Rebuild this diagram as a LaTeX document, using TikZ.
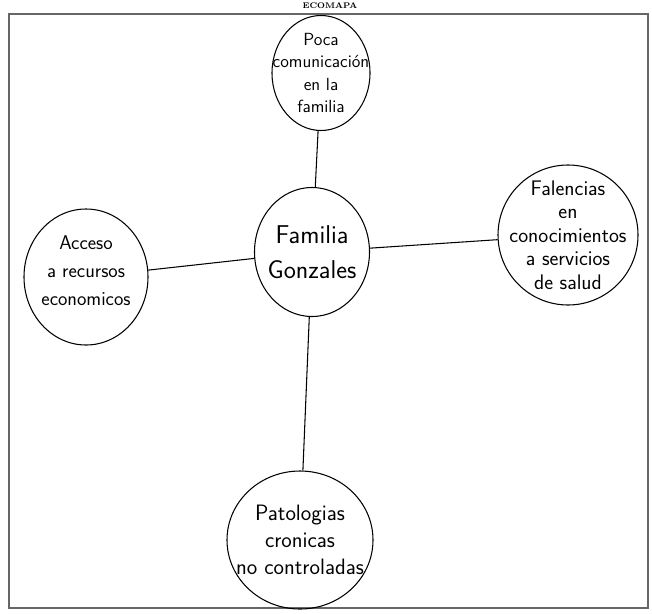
\documentclass[tikz,border=0pt]{standalone}
\usepackage{tikz}
\usetikzlibrary{shapes.geometric}

\begin{document}
\begin{tikzpicture}[x=0.03cm, y=-0.03cm, line width=0.9pt,
	bubble/.style={draw, ellipse, inner sep=0pt},
	txt/.style={font=\sffamily\Large, align=center}]
	\useasboundingbox (0,0) rectangle (652,613);
	\draw[gray!80!black, line width=1pt] (9,14) rectangle (648,608);
	\node[font=\bfseries\scriptsize, inner sep=0pt] (titulo) at (330,6) {ECOMAPA};
	% circulos
	\node[bubble, minimum width=2.94cm, minimum height=3.45cm] (poca) at (321,73) {};
	\node[bubble, minimum width=3.45cm, minimum height=3.87cm] (fam) at (312,252) {};
	\node[bubble, minimum width=4.2cm, minimum height=4.2cm] (fal) at (568,235) {};
	\node[bubble, minimum width=3.72cm, minimum height=4.08cm] (acc) at (86,277) {};
	\node[bubble, minimum width=4.38cm, minimum height=4.14cm] (pat) at (300,540) {};
	% textos
	\node[txt, font=\sffamily\fontsize{15}{19}\selectfont] at (poca) {Poca\\comunicación\\en la\\familia};
	\node[txt, font=\sffamily\fontsize{22}{30}\selectfont] at (fam) {Familia\\Gonzales};
	\node[txt, font=\sffamily\fontsize{18}{20}\selectfont] at (fal) {Falencias\\en\\conocimientos\\a servicios\\de salud};
	\node[txt, font=\sffamily\fontsize{17}{24}\selectfont] at ([yshift=0.2cm]acc) {Acceso\\a recursos\\economicos};
	\node[txt, font=\sffamily\fontsize{19}{23}\selectfont] at (pat) {Patologias\\cronicas\\no controladas};
	% lineas
	\draw (poca) -- (fam);
	\draw (fam) -- (fal);
	\draw (fam) -- (acc);
	\draw (fam) -- (pat);
\end{tikzpicture}
\end{document}
